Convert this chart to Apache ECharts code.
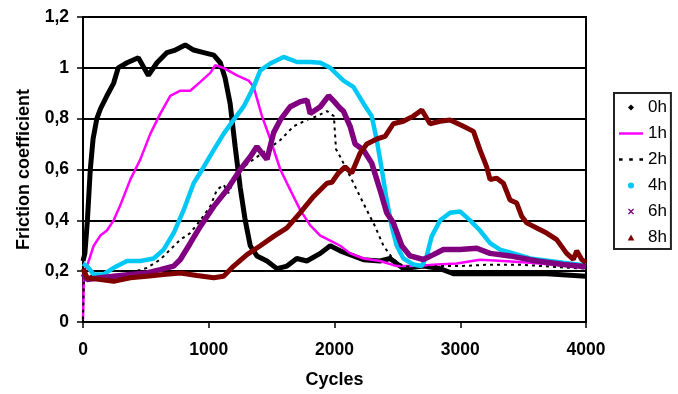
<!DOCTYPE html>
<html>
<head>
<meta charset="utf-8">
<script src="https://cdn.jsdelivr.net/npm/echarts@6/dist/echarts.min.js"></script>
<style>
  html, body { margin: 0; padding: 0; background: #fff; }
  #chart { width: 678px; height: 394px; }
</style>
</head>
<body>
<div id="chart"></div>
<script>
// cycles / friction coefficient per ageing time
const cycles0h = [0, 15, 35, 58, 80, 110, 140, 190, 244, 280, 350, 440, 520, 588, 668, 734, 813, 880, 960, 1040, 1092, 1130, 1170, 1210, 1250, 1290, 1330, 1383, 1463, 1542, 1622, 1700, 1780, 1887, 1966, 2045, 2124, 2230, 2362, 2442, 2548, 2707, 2840, 2945, 3157, 3422, 3687, 4000];
const mu0h = [0.24, 0.27, 0.4, 0.6, 0.72, 0.8, 0.84, 0.89, 0.94, 1.0, 1.02, 1.04, 0.97, 1.02, 1.06, 1.07, 1.09, 1.07, 1.06, 1.05, 1.02, 0.96, 0.86, 0.69, 0.53, 0.40, 0.30, 0.26, 0.24, 0.21, 0.22, 0.25, 0.24, 0.27, 0.30, 0.28, 0.265, 0.245, 0.24, 0.25, 0.21, 0.22, 0.21, 0.19, 0.19, 0.19, 0.19, 0.18];

const cycles1h = [0, 8, 32, 85, 138, 190, 244, 297, 376, 456, 535, 615, 694, 774, 853, 933, 1012, 1052, 1118, 1224, 1317, 1357, 1423, 1489, 1569, 1648, 1728, 1807, 1887, 1966, 2045, 2124, 2230, 2362, 2495, 2654, 2813, 2972, 3157, 3343, 3555, 3820, 4000];
const mu1h = [0.01, 0.2, 0.22, 0.30, 0.34, 0.36, 0.40, 0.46, 0.56, 0.64, 0.74, 0.82, 0.89, 0.91, 0.91, 0.945, 0.98, 1.01, 1.0, 0.97, 0.95, 0.925, 0.81, 0.72, 0.60, 0.52, 0.44, 0.38, 0.34, 0.32, 0.30, 0.27, 0.25, 0.24, 0.22, 0.22, 0.226, 0.23, 0.245, 0.24, 0.233, 0.222, 0.22];

const cycles2h = [0, 8, 32, 138, 244, 376, 509, 615, 694, 774, 853, 933, 1012, 1065, 1118, 1158, 1198, 1277, 1357, 1463, 1569, 1675, 1781, 1860, 1940, 1995, 2012, 2040, 2097, 2177, 2257, 2323, 2389, 2468, 2548, 2707, 2840, 3000, 3200, 3500, 3800, 4000];
const mu2h = [0.01, 0.2, 0.19, 0.167, 0.18, 0.193, 0.213, 0.246, 0.285, 0.324, 0.35, 0.40, 0.455, 0.52, 0.54, 0.507, 0.56, 0.61, 0.64, 0.677, 0.716, 0.77, 0.795, 0.81, 0.83, 0.81, 0.68, 0.655, 0.60, 0.52, 0.44, 0.376, 0.30, 0.246, 0.22, 0.215, 0.22, 0.22, 0.225, 0.225, 0.215, 0.21];

const cycles4h = [0, 32, 85, 164, 244, 350, 456, 562, 641, 721, 800, 880, 960, 1040, 1118, 1198, 1277, 1357, 1410, 1489, 1595, 1701, 1807, 1887, 1966, 2071, 2150, 2230, 2296, 2336, 2376, 2415, 2455, 2495, 2548, 2627, 2694, 2733, 2773, 2840, 2919, 2998, 3078, 3157, 3237, 3316, 3422, 3555, 3820, 4000];
const mu4h = [0.23, 0.22, 0.187, 0.187, 0.213, 0.24, 0.24, 0.25, 0.285, 0.35, 0.44, 0.546, 0.61, 0.677, 0.74, 0.795, 0.847, 0.925, 0.99, 1.017, 1.043, 1.023, 1.023, 1.02, 1.0, 0.95, 0.925, 0.86, 0.81, 0.716, 0.60, 0.48, 0.376, 0.30, 0.25, 0.226, 0.22, 0.26, 0.337, 0.40, 0.43, 0.435, 0.40, 0.36, 0.31, 0.285, 0.27, 0.25, 0.233, 0.222];

const cycles6h = [0, 32, 138, 244, 376, 509, 615, 721, 774, 853, 933, 1040, 1145, 1251, 1330, 1383, 1423, 1463, 1516, 1569, 1648, 1728, 1781, 1807, 1887, 1953, 1993, 2046, 2071, 2124, 2164, 2230, 2296, 2362, 2415, 2468, 2535, 2601, 2707, 2787, 2866, 2998, 3131, 3237, 3396, 3608, 3820, 4000];
const mu6h = [0.19, 0.167, 0.174, 0.18, 0.187, 0.193, 0.206, 0.22, 0.246, 0.31, 0.376, 0.455, 0.52, 0.60, 0.65, 0.69, 0.664, 0.64, 0.745, 0.795, 0.847, 0.867, 0.873, 0.82, 0.847, 0.89, 0.87, 0.84, 0.83, 0.77, 0.70, 0.677, 0.625, 0.52, 0.43, 0.39, 0.30, 0.26, 0.246, 0.265, 0.285, 0.285, 0.29, 0.27, 0.26, 0.24, 0.226, 0.217];

const cycles8h = [0, 32, 138, 244, 376, 509, 641, 774, 906, 1040, 1118, 1198, 1304, 1410, 1516, 1622, 1728, 1834, 1940, 1980, 2031, 2084, 2137, 2203, 2257, 2336, 2402, 2468, 2548, 2627, 2694, 2760, 2840, 2919, 3025, 3105, 3157, 3210, 3237, 3290, 3343, 3396, 3449, 3489, 3528, 3608, 3687, 3767, 3846, 3900, 3926, 3966, 4000];
const mu8h = [0.21, 0.174, 0.167, 0.16, 0.174, 0.18, 0.187, 0.193, 0.183, 0.174, 0.18, 0.22, 0.265, 0.30, 0.337, 0.37, 0.43, 0.494, 0.546, 0.55, 0.586, 0.61, 0.586, 0.664, 0.70, 0.72, 0.73, 0.78, 0.79, 0.81, 0.834, 0.78, 0.79, 0.795, 0.77, 0.75, 0.677, 0.61, 0.56, 0.566, 0.546, 0.48, 0.468, 0.416, 0.39, 0.37, 0.35, 0.324, 0.27, 0.246, 0.28, 0.246, 0.233];

const seriesNames = ['0h', '1h', '2h', '4h', '6h', '8h'];
const xTicks = [0, 1000, 2000, 3000, 4000];
const yTicks = [0, 0.2, 0.4, 0.6, 0.8, 1, 1.2];

const zip = (xs, ys) => xs.map((x, i) => [x, ys[i]]);
const FONT = "'Liberation Sans', Arial, sans-serif";

// legend glyphs (paths keep their aspect, built-in symbols get stretched)
const icons = {
  diamond: 'path://M5,0 L10,5 L5,10 L0,5 Z',
  line: 'path://M0,0 H24 V2.5 H0 Z',
  dots: 'path://M0,0 H3 V2 H0 Z M8.5,0 H11.5 V2 H8.5 Z M17,0 H20 V2 H17 Z',
  dot: 'path://M5,0 A5,5 0 1,1 4.99,0 Z',
  cross: 'path://M0,1.5 L1.5,0 L5,3.5 L8.5,0 L10,1.5 L6.5,5 L10,8.5 L8.5,10 L5,6.5 L1.5,10 L0,8.5 L3.5,5 Z',
  triangle: 'path://M5,0 L10,9 L0,9 Z'
};

const chart = echarts.init(document.getElementById('chart'));

const mkLine = (name, data, color, width, type) => ({
  name: name,
  type: 'line',
  data: data,
  showSymbol: false,
  symbol: 'none',
  color: color,
  lineStyle: { color: color, width: width, type: type || 'solid' },
  z: 3
});

chart.setOption({
  animation: false,
  backgroundColor: '#fff',
  textStyle: { fontFamily: FONT },
  grid: {
    left: 83, right: 92, top: 17, bottom: 71,
    show: true, borderColor: '#000', borderWidth: 2
  },
  legend: {
    orient: 'vertical',
    left: 614,
    top: 93,
    padding: [6, 4, 3, 5],
    itemWidth: 24,
    itemHeight: 6,
    itemGap: 9,
    symbolKeepAspect: true,
    borderColor: '#222',
    borderWidth: 2,
    textStyle: { color: '#000', fontSize: 17, fontFamily: FONT },
    data: [
      { name: seriesNames[0], icon: icons.diamond },
      { name: seriesNames[1], icon: icons.line },
      { name: seriesNames[2], icon: icons.dots },
      { name: seriesNames[3], icon: icons.dot },
      { name: seriesNames[4], icon: icons.cross },
      { name: seriesNames[5], icon: icons.triangle }
    ]
  },
  xAxis: {
    type: 'value',
    min: xTicks[0],
    max: xTicks[xTicks.length - 1],
    interval: 1000,
    name: 'Cycles',
    nameLocation: 'middle',
    nameGap: 49,
    nameTextStyle: { color: '#000', fontSize: 18, fontWeight: 'bold', fontFamily: FONT },
    axisLine: { lineStyle: { color: '#000', width: 2 } },
    axisTick: { show: true, length: 6, lineStyle: { color: '#000', width: 1.5 } },
    axisLabel: {
      color: '#000', fontSize: 17.5, fontWeight: 'bold', margin: 19, fontFamily: FONT,
      formatter: v => String(v)
    },
    splitLine: { show: false }
  },
  yAxis: {
    type: 'value',
    min: yTicks[0],
    max: yTicks[yTicks.length - 1],
    interval: 0.2,
    name: 'Friction coefficient',
    nameLocation: 'middle',
    nameGap: 50,
    nameTextStyle: { color: '#000', fontSize: 18, fontWeight: 'bold', fontFamily: FONT },
    axisLine: { show: true, lineStyle: { color: '#000', width: 2 } },
    axisTick: { show: true, length: 6, lineStyle: { color: '#000', width: 1.5 } },
    axisLabel: {
      color: '#000', fontSize: 17.5, fontWeight: 'bold', margin: 14, fontFamily: FONT,
      formatter: v => String(+v.toFixed(1)).replace('.', ',')
    },
    splitLine: { show: true, lineStyle: { color: '#000', width: 2 } }
  },
  series: [
    mkLine(seriesNames[0], zip(cycles0h, mu0h), '#000000', 5),
    mkLine(seriesNames[1], zip(cycles1h, mu1h), '#ff00ff', 2.5),
    mkLine(seriesNames[2], zip(cycles2h, mu2h), '#000000', 2, [3, 4]),
    mkLine(seriesNames[3], zip(cycles4h, mu4h), '#00c8f5', 4.5),
    mkLine(seriesNames[4], zip(cycles6h, mu6h), '#800080', 5.5),
    mkLine(seriesNames[5], zip(cycles8h, mu8h), '#800000', 5)
  ]
});

window.addEventListener('resize', () => chart.resize());
</script>
</body>
</html>
